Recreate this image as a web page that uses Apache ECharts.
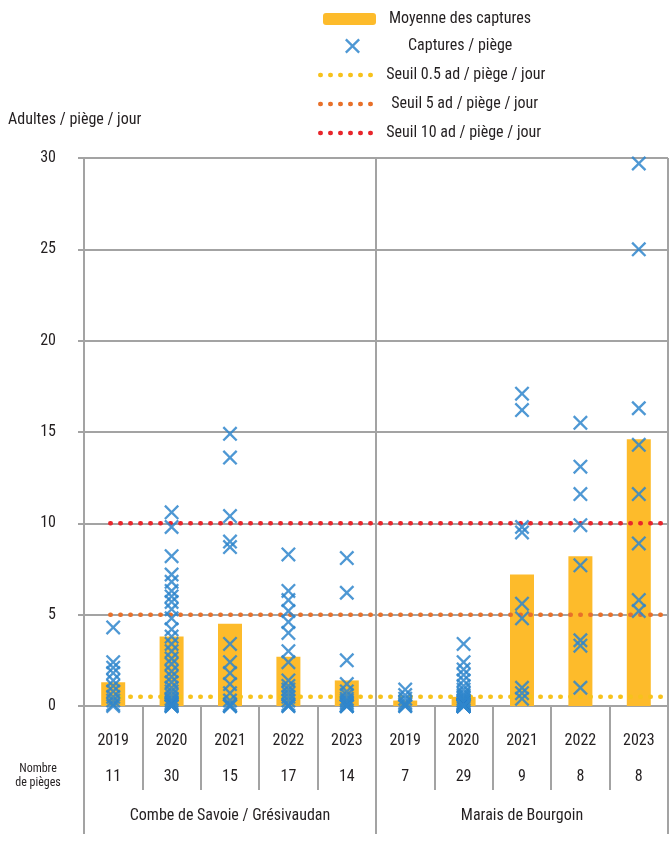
<!DOCTYPE html>
<html lang="fr">
<head>
<meta charset="UTF-8">
<title>Captures / piège</title>
<script src="https://cdn.jsdelivr.net/npm/echarts@6/dist/echarts.min.js"></script>
<style>
  html, body { margin: 0; padding: 0; background: #fff; }
  #chart { width: 670px; height: 847px; }
</style>
</head>
<body>
<div id="chart"></div>
<script>
// catégories
const years = ['2019', '2020', '2021', '2022', '2023', '2019', '2020', '2021', '2022', '2023'];
const traps = [11, 30, 15, 17, 14, 7, 29, 9, 8, 8];
const regions = ['Combe de Savoie / Grésivaudan', 'Marais de Bourgoin'];

// moyenne des captures (adultes / piège / jour)
const means = [1.3, 3.8, 4.5, 2.7, 1.4, 0.3, 0.5, 7.2, 8.2, 14.6];

// captures par piège
const combe2019 = [4.3, 2.4, 2.1, 1.8, 1.4, 1.1, 0.8, 0.5, 0.3, 0.1, 0];
const combe2020 = [10.6, 9.8, 8.2, 7.2, 6.8, 6.3, 6.0, 5.7, 5.3, 4.8, 4.2, 3.8, 3.4, 3.0, 2.6,
                   2.3, 1.9, 1.6, 1.3, 1.0, 0.8, 0.6, 0.4, 0.3, 0.2, 0.1, 0.1, 0, 0, 0];
const combe2021 = [14.9, 13.6, 10.4, 9.0, 8.7, 3.4, 2.4, 1.8, 1.2, 0.7, 0.3, 0.1, 0, 0, 0];
const combe2022 = [8.3, 6.3, 5.8, 5.2, 4.6, 4.0, 3.0, 2.4, 1.4, 1.1, 0.9, 0.7, 0.5, 0.3, 0.1, 0, 0];
const combe2023 = [8.1, 6.2, 2.5, 1.2, 0.8, 0.6, 0.4, 0.3, 0.2, 0.1, 0, 0, 0, 0];
const marais2019 = [0.9, 0.6, 0.4, 0.2, 0.1, 0, 0];
const marais2020 = [3.4, 2.4, 2.0, 1.7, 1.4, 1.1, 0.9, 0.7, 0.6, 0.5, 0.4, 0.3, 0.3, 0.2, 0.2,
                    0.1, 0.1, 0.1, 0.1, 0, 0, 0, 0, 0, 0, 0, 0, 0, 0];
const marais2021 = [17.1, 16.2, 9.8, 9.5, 5.6, 4.8, 1.0, 0.7, 0.4];
const marais2022 = [15.5, 13.1, 11.6, 9.9, 7.7, 3.6, 3.3, 1.0];
const marais2023 = [29.7, 25.0, 16.3, 14.3, 11.6, 8.9, 5.8, 5.2];

// seuils
const thresholds = [0.5, 5, 10];
const thresholdNames = ['Seuil 0.5 ad / piège / jour', 'Seuil 5 ad / piège / jour', 'Seuil 10 ad / piège / jour'];
const thresholdColors = ['#f7c21c', '#e8702a', '#e8262c'];
// étendue horizontale des seuils (en nombre de catégories)
const thresholdSpan = [0.45, 10];

const perTrap = [combe2019, combe2020, combe2021, combe2022, combe2023,
                 marais2019, marais2020, marais2021, marais2022, marais2023];

const FONT = '"Roboto Condensed", "DejaVu Sans Condensed", sans-serif';
const GRAY = '#a3a3a3';
const TXT = '#231f20';
const CROSS = 'path://M0,1.1L1.1,0L5,3.9L8.9,0L10,1.1L6.1,5L10,8.9L8.9,10L5,6.1L1.1,10L0,8.9L3.9,5Z';
const DOTS = { width: 4.5, type: [0.5, 9.5], cap: 'round' };

const scatterData = [];
perTrap.forEach((vals, i) => vals.forEach(v => scatterData.push([i, v])));

const chart = echarts.init(document.getElementById('chart'));

const thresholdSeries = thresholds.map((t, i) => ({
  name: thresholdNames[i],
  type: 'line',
  xAxisIndex: 3,
  symbol: 'none',
  silent: true,
  z: 3,
  itemStyle: { color: thresholdColors[i] },
  lineStyle: Object.assign({ color: thresholdColors[i] }, DOTS),
  data: thresholdSpan.map(x => [x, t])
}));

const legendPos = [
  { left: 323, top: 11, w: 53, h: 12, pad: 13 },
  { left: 345, top: 38, w: 15, h: 15, pad: 48 },
  { left: 318, top: 67, w: 54, h: 12, pad: 12 },
  { left: 318, top: 96, w: 54, h: 12, pad: 17 },
  { left: 318, top: 125, w: 54, h: 12, pad: 12 }
];
const legendNames = ['Moyenne des captures', 'Captures / piège'].concat(thresholdNames);

chart.setOption({
  animation: false,
  textStyle: { fontFamily: FONT },
  legend: legendNames.map((n, i) => {
    const lg = {
      data: [n],
      left: legendPos[i].left,
      top: legendPos[i].top,
      padding: 0,
      itemWidth: legendPos[i].w,
      itemHeight: legendPos[i].h,
      selectedMode: false,
      textStyle: { fontFamily: FONT, fontSize: 16, color: TXT, padding: [0, 0, 0, legendPos[i].pad - 5] }
    };
    if (i >= 2) {
      lg.itemStyle = { opacity: 0 };
      lg.lineStyle = DOTS;
    }
    return lg;
  }),
  graphic: [
    { type: 'text', left: 8, top: 112, style: { text: 'Adultes / piège / jour', font: '16px ' + FONT, fill: TXT } },
    { type: 'text', x: 38, y: 762, style: { text: 'Nombre\nde pièges', font: '12px ' + FONT, fill: TXT, align: 'center', lineHeight: 14 } }
  ],
  grid: { left: 84, right: 2, top: 158, bottom: 141, containLabel: false },
  yAxis: {
    type: 'value', min: 0, max: 30, interval: 5,
    axisLine: { show: true, lineStyle: { color: GRAY, width: 2 } },
    axisTick: { show: true, length: 6, lineStyle: { color: GRAY, width: 2 } },
    splitLine: { lineStyle: { color: GRAY, width: 2 } },
    axisLabel: { margin: 28, fontSize: 16, color: TXT, fontFamily: FONT }
  },
  xAxis: [
    {
      type: 'category', data: years, position: 'bottom',
      axisLine: { lineStyle: { color: GRAY, width: 2 } },
      axisTick: { show: true, length: 84, interval: 0, lineStyle: { color: GRAY, width: 2 } },
      axisLabel: { margin: 27, fontSize: 16, color: TXT, fontFamily: FONT, interval: 0 },
      splitLine: { show: false }
    },
    {
      type: 'category', data: traps.map(String), position: 'bottom',
      axisLine: { show: false }, axisTick: { show: false },
      axisLabel: { margin: 63, fontSize: 16, color: TXT, fontFamily: FONT, interval: 0 }
    },
    {
      type: 'category', data: regions, position: 'bottom',
      axisLine: { show: false },
      axisTick: { show: true, length: 128, lineStyle: { color: GRAY, width: 2 } },
      axisLabel: { margin: 102, fontSize: 16, color: TXT, fontFamily: FONT, interval: 0 },
      splitLine: { show: true, lineStyle: { color: GRAY, width: 2 } }
    },
    { type: 'value', min: 0, max: 10, show: false }
  ],
  series: [
    {
      name: 'Moyenne des captures',
      type: 'bar',
      xAxisIndex: 0,
      barWidth: 24,
      z: 2,
      itemStyle: { color: '#fdbb2b' },
      data: means
    },
    {
      name: 'Captures / piège',
      type: 'scatter',
      xAxisIndex: 0,
      symbol: CROSS,
      symbolSize: 15,
      z: 5,
      itemStyle: { color: '#2f86cc', opacity: 0.85 },
      data: scatterData
    }
  ].concat(thresholdSeries)
});
</script>
</body>
</html>
